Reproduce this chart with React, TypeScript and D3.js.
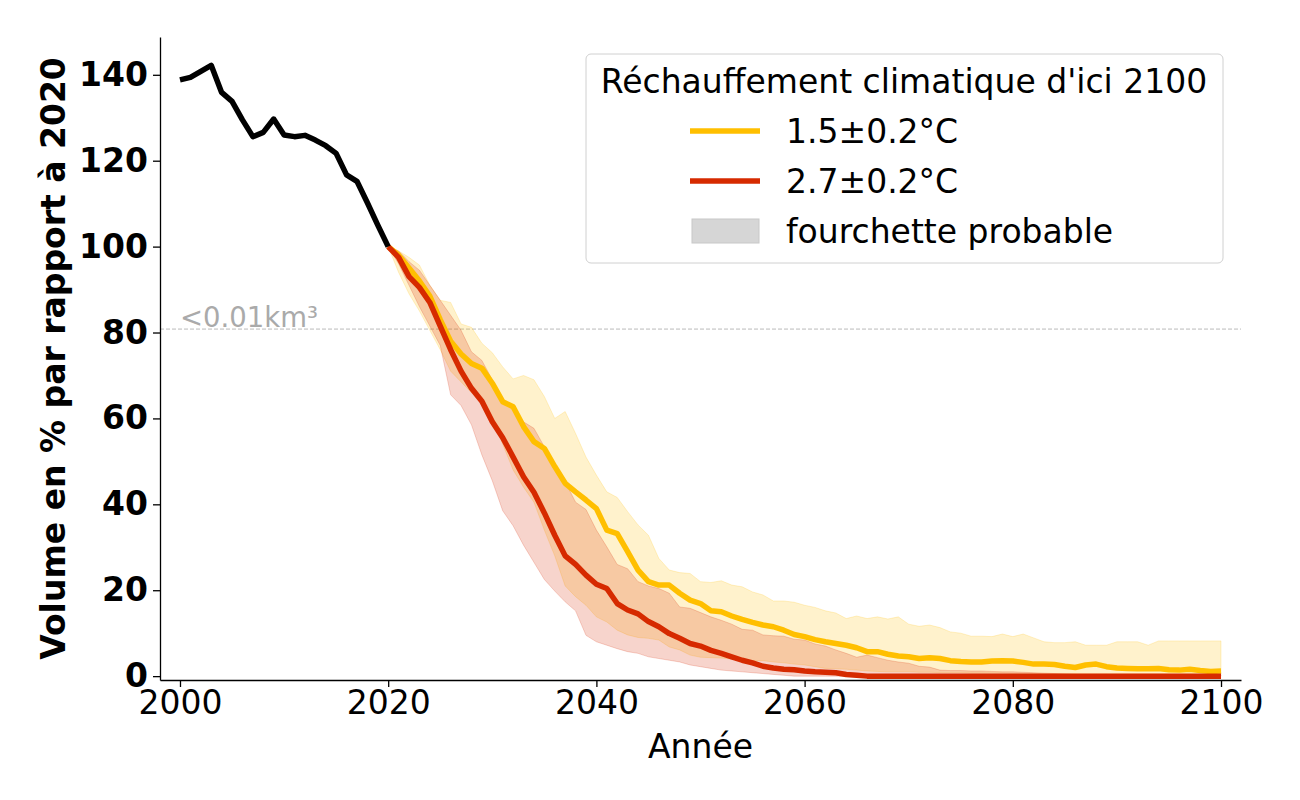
import React, { useEffect, useRef } from 'react';
import * as d3 from 'd3';

// Historical volume (2000-2020), % of 2020
const histStart = 2000;
const histValues = [
  138.8, 139.4, 140.8, 142.2, 135.9, 133.8, 129.5, 125.6, 126.6, 129.7,
  126.0, 125.6, 125.9, 124.8, 123.5, 121.7, 116.7, 115.2, 110.2, 105.0, 100.0
];

// Projections 2020-2100
const projStart = 2020;

// 1.5±0.2°C
const lowMedian = [
  100, 98, 95, 92, 88.5, 83, 78, 75, 72.8, 71.7,
  68.2, 63.9, 62.7, 58.1, 54.6, 53, 48.8, 44.9, 42.9, 41,
  39, 34, 33.2, 29, 24.7, 22, 21.2, 21.2, 19.3, 17.7,
  16.9, 15.2, 15, 14, 13.2, 12.5, 11.9, 11.5, 10.7, 9.7,
  9.2, 8.5, 8, 7.6, 7.2, 6.6, 5.7, 5.7, 5.1, 4.7,
  4.5, 4.1, 4.3, 4.1, 3.6, 3.4, 3.3, 3.3, 3.5, 3.6,
  3.5, 3.2, 2.8, 2.8, 2.7, 2.3, 2.0, 2.6, 2.8, 2.2,
  1.9, 1.8, 1.7, 1.7, 1.8, 1.5, 1.4, 1.6, 1.3, 1.1,
  1.2
];
const lowUpper = [
  100, 99, 97.5, 95.7, 91, 87.5, 87, 82, 81.2, 77.5,
  75.3, 72, 69.2, 70, 69, 65.1, 60, 61.6, 56.5, 51,
  46.8, 42.9, 41.6, 38.3, 35.2, 32.8, 27.4, 24.7, 24.1, 23.9,
  22, 21.8, 22.2, 21.2, 20.8, 19.6, 18.9, 17.5, 17.5, 17.2,
  16.5, 16, 15.2, 14.7, 13.4, 14, 13.4, 13.8, 13.3, 13.8,
  12.1, 11.6, 11.9, 11.3, 10.3, 10, 9.3, 9.3, 9.2, 9.8,
  9.2, 9.8, 8.9, 8, 7.8, 7.8, 8, 7.2, 7.2, 7.2,
  8, 8, 8, 7.2, 8.2, 8.2, 8.2, 8.2, 8.2, 8.2,
  8.2
];
const lowLower = [
  100, 94, 89, 85, 80.5, 76, 71, 68.5, 66, 63.5,
  60, 54, 48, 44, 40.5, 34, 28, 21, 18.5, 16.5,
  13.8, 12.6, 10.7, 9.6, 9, 8.8, 8.4, 6.8, 6.1, 4.9,
  4.4, 4.3, 4.2, 4, 3.7, 3.6, 3.6, 3.3, 3.1, 2.8,
  2.6, 2.2, 1.8, 1.7, 1.6, 1.4, 1.2, 1.1, 1, 1,
  1, 0.9, 0.9, 0.8, 0.8, 0.8, 0.7, 0.7, 0.7, 0.7,
  0.6, 0.6, 0.6, 0.6, 0.6, 0.5, 0.5, 0.5, 0.5, 0.5,
  0.5, 0.5, 0.5, 0.5, 0.5, 0.5, 0.5, 0.5, 0.5, 0.5,
  0.5
];

// 2.7±0.2°C
const highMedian = [
  100, 97.5, 93, 90.5, 87, 81.5, 76, 71, 67, 64,
  59.2, 55.5, 51, 46.4, 42.8, 38, 32.8, 28, 26, 23.5,
  21.4, 20.4, 16.9, 15.4, 14.5, 12.7, 11.5, 9.9, 8.8, 7.6,
  7, 6, 5.3, 4.5, 3.7, 3.1, 2.3, 1.9, 1.6, 1.5,
  1.2, 1, 0.9, 0.8, 0.4, 0.2, 0, 0, 0, 0,
  0, 0, 0, 0, 0, 0, 0, 0, 0, 0,
  0, 0, 0, 0, 0, 0, 0, 0, 0, 0,
  0, 0, 0, 0, 0, 0, 0, 0, 0, 0,
  0
];
const highUpper = [
  100, 99, 96.5, 94.5, 91, 87.5, 84, 80.5, 75.5, 73.5,
  69, 64.3, 62.7, 59.2, 57.7, 53.4, 49.5, 45.3, 40.5, 38.8,
  34, 30.1, 26, 25, 22, 21, 20.4, 19.3, 16.1, 15.8,
  14.8, 13.8, 13, 12.1, 10.9, 10.7, 9.6, 9.4, 9.3, 8.6,
  8.4, 7.5, 7, 6.1, 5.3, 4.4, 4.9, 4.3, 3.7, 3.3,
  3, 2.3, 2.1, 1.4, 1.3, 1.3, 1.2, 1.2, 1.1, 1,
  1, 0.9, 0.8, 0.7, 0.6, 0.5, 0.4, 0.4, 0.4, 0.4,
  0.3, 0.3, 0.3, 0.3, 0.3, 0.3, 0.3, 0.3, 0.3, 0.3,
  0.3
];
const highLower = [
  100, 96, 91, 86, 81.5, 77, 65.5, 63, 58.5, 51.5,
  45.5, 38.5, 35, 30.5, 26.5, 22.5, 19.8, 17.3, 15.2, 9.5,
  8, 7.2, 6.4, 5.7, 5.3, 4.5, 4.1, 3.7, 3.3, 2.6,
  2.2, 1.8, 1.4, 1.2, 1, 0.8, 0.6, 0.4, 0.2, 0,
  0, 0, 0, 0, 0, 0, 0, 0, 0, 0,
  0, 0, 0, 0, 0, 0, 0, 0, 0, 0,
  0, 0, 0, 0, 0, 0, 0, 0, 0, 0,
  0, 0, 0, 0, 0, 0, 0, 0, 0, 0,
  0
];

const yTicks = [0, 20, 40, 60, 80, 100, 120, 140];
const xTicks = [2000, 2020, 2040, 2060, 2080, 2100];
const thresholdValue = 80.8;
const thresholdLabel = '<0.01km³';
const legendTitle = "Réchauffement climatique d'ici 2100";
const scenarioLabels = ['1.5±0.2°C', '2.7±0.2°C'];
const rangeLabel = 'fourchette probable';

const YELLOW = '#ffbf00';
const RED = '#d62a00';
const FONT = '"DejaVu Sans", sans-serif';
const FS = '33px';

type Pt = { year: number; v: number };
type Band = { year: number; lo: number; hi: number };

const toPoints = (start: number, vals: number[]): Pt[] =>
  vals.map((v, i) => ({ year: start + i, v }));
const toBand = (start: number, lo: number[], hi: number[]): Band[] =>
  lo.map((l, i) => ({ year: start + i, lo: l, hi: hi[i] }));

const App = () => {
  const ref = useRef<SVGSVGElement | null>(null);

  useEffect(() => {
    document.body.style.margin = '0';
    const svg = d3.select(ref.current);
    svg.selectAll('*').remove();

    const width = 1300;
    const height = 800;
    const left = 160, right = 1241, top = 37, bottom = 680;

    const x = d3.scaleLinear().domain([1998.08, 2101.92]).range([left, right]);
    const y = d3.scaleLinear().domain([-0.9, 148.8]).range([bottom, top]);

    svg.append('rect').attr('width', width).attr('height', height).attr('fill', 'white');

    // threshold line
    svg.append('line')
      .attr('x1', left).attr('x2', right)
      .attr('y1', y(thresholdValue)).attr('y2', y(thresholdValue))
      .attr('stroke', '#bbbbbb')
      .attr('stroke-width', 1)
      .attr('stroke-dasharray', '4,2');

    svg.append('text')
      .attr('x', x(2000))
      .attr('y', y(thresholdValue) - 2)
      .style('font-family', FONT)
      .style('font-size', '27.5px')
      .attr('fill', '#aaaaaa')
      .text(thresholdLabel);

    // bands
    const area = d3.area<Band>()
      .x(d => x(d.year))
      .y0(d => y(d.lo))
      .y1(d => y(d.hi));

    const bands = [
      { data: toBand(projStart, lowLower, lowUpper), color: YELLOW },
      { data: toBand(projStart, highLower, highUpper), color: RED }
    ];
    bands.forEach(b => {
      svg.append('path')
        .datum(b.data)
        .attr('d', area)
        .attr('fill', b.color)
        .attr('fill-opacity', 0.2)
        .attr('stroke', b.color)
        .attr('stroke-opacity', 0.2)
        .attr('stroke-width', 1);
    });

    // lines
    const line = d3.line<Pt>()
      .x(d => x(d.year))
      .y(d => y(d.v));

    const series = [
      { data: toPoints(projStart, lowMedian), color: YELLOW },
      { data: toPoints(projStart, highMedian), color: RED },
      { data: toPoints(histStart, histValues), color: '#000000' }
    ];
    series.forEach(s => {
      svg.append('path')
        .datum(s.data)
        .attr('d', line)
        .attr('fill', 'none')
        .attr('stroke', s.color)
        .attr('stroke-width', 5.5)
        .attr('stroke-linejoin', 'round');
    });

    // axes
    const yAxis = svg.append('g')
      .attr('transform', `translate(${left},0)`)
      .call(d3.axisLeft(y).tickValues(yTicks).tickSize(7).tickPadding(5).tickSizeOuter(0));
    yAxis.select('.domain').attr('stroke-width', 1.3);
    yAxis.selectAll('.tick line').attr('stroke-width', 1.3);
    yAxis.selectAll('.tick text')
      .style('font-family', FONT)
      .style('font-size', FS)
      .style('font-weight', 'bold')
      .attr('fill', '#000');

    const xAxis = svg.append('g')
      .attr('transform', `translate(0,${bottom})`)
      .call(d3.axisBottom(x).tickValues(xTicks).tickFormat(d3.format('d')).tickSize(7).tickPadding(4).tickSizeOuter(0));
    xAxis.select('.domain').attr('stroke-width', 1.3);
    xAxis.selectAll('.tick line').attr('stroke-width', 1.3);
    xAxis.selectAll('.tick text')
      .style('font-family', FONT)
      .style('font-size', FS)
      .attr('fill', '#000');

    svg.append('text')
      .attr('x', (left + right) / 2)
      .attr('y', 758)
      .attr('text-anchor', 'middle')
      .style('font-family', FONT)
      .style('font-size', FS)
      .text('Année');

    svg.append('text')
      .attr('transform', `translate(65,${(top + bottom) / 2}) rotate(-90)`)
      .attr('text-anchor', 'middle')
      .style('font-family', FONT)
      .style('font-size', FS)
      .style('font-weight', 'bold')
      .text('Volume en % par rapport à 2020');

    // legend
    const lg = svg.append('g');
    lg.append('rect')
      .attr('x', 586).attr('y', 54)
      .attr('width', 637).attr('height', 209)
      .attr('rx', 5)
      .attr('fill', 'white').attr('fill-opacity', 0.8)
      .attr('stroke', '#d0d0d0');

    lg.append('text')
      .attr('x', 904).attr('y', 93)
      .attr('text-anchor', 'middle')
      .style('font-family', FONT)
      .style('font-size', FS)
      .text(legendTitle);

    [YELLOW, RED].forEach((c, i) => {
      const cy = 131 + i * 50;
      lg.append('line')
        .attr('x1', 690).attr('x2', 760)
        .attr('y1', cy).attr('y2', cy)
        .attr('stroke', c).attr('stroke-width', 5.5);
      lg.append('text')
        .attr('x', 786).attr('y', cy)
        .attr('dy', '0.36em')
        .style('font-family', FONT)
        .style('font-size', FS)
        .text(scenarioLabels[i]);
    });

    lg.append('rect')
      .attr('x', 692).attr('y', 219)
      .attr('width', 67).attr('height', 24)
      .attr('fill', '#d6d6d6')
      .attr('stroke', '#c8c8c8');
    lg.append('text')
      .attr('x', 786).attr('y', 231)
      .attr('dy', '0.36em')
      .style('font-family', FONT)
      .style('font-size', FS)
      .text(rangeLabel);
  }, []);

  return <svg ref={ref} width={1300} height={800} style={{ display: 'block' }} />;
};

export default App;
